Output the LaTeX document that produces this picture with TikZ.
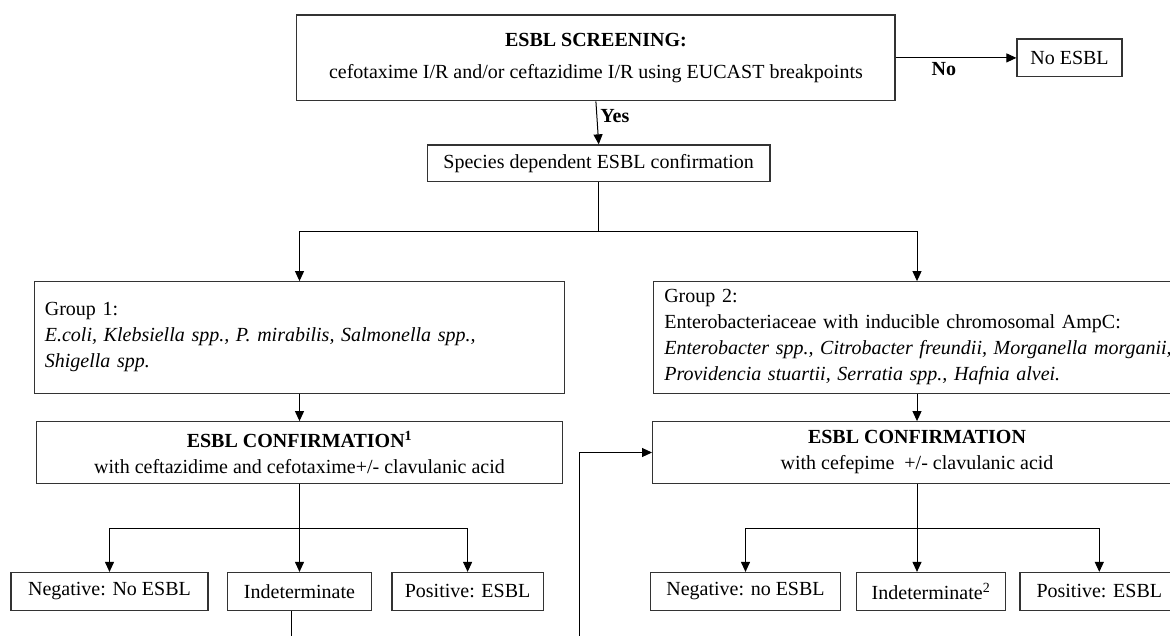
\documentclass[tikz,border=0pt]{standalone}
\usepackage{fontspec}
\setmainfont{Liberation Serif}
\usetikzlibrary{arrows.meta}
\begin{document}
\begin{tikzpicture}[x=1pt,y=-1pt,
  box/.style={draw=black!80,line width=1.2pt,inner sep=0pt,align=center,font=\fontsize{20}{26}\selectfont},
  gbox/.style={draw=black!80,line width=1.2pt,inner xsep=10pt,inner ysep=0pt,align=left,font=\fontsize{20}{26}\selectfont},
  conn/.style={line width=1pt,draw=black},
  arr/.style={conn,-{Triangle[length=10pt,width=9pt]}},
  lbl/.style={font=\fontsize{20}{24}\selectfont\bfseries,inner sep=3pt}]
\useasboundingbox (0,0) rectangle (1170,635);
\clip (0,0) rectangle (1170,635);
\fill[white] (0,0) rectangle (1170,635);

% boxes
\node[box, minimum width=598.3pt, minimum height=85.7pt] (scr) at (595.9,57.9)
  {\textbf{ESBL SCREENING:}\\[6pt]cefotaxime I/R and/or ceftazidime I/R using EUCAST breakpoints};
\node[box, minimum width=105pt, minimum height=37.7pt] (noe) at (1069.5,57.9) {No ESBL};
\node[box, minimum width=342.6pt, minimum height=36.7pt] (spec) at (598.7,163.3) {Species dependent ESBL confirmation};

\node[gbox, text width=509.3pt, minimum height=111.6pt] (g1) at (299.5,337.5)
  {Group 1:\\\textit{E.coli, Klebsiella spp., P. mirabilis, Salmonella spp.,}\\\textit{Shigella spp.}};
\node[gbox, inner xsep=11pt, text width=505.4pt, minimum height=111.6pt] (g2) at (917,337.5)
  {Group 2:\\\mbox{Enterobacteriaceae with inducible chromosomal AmpC:}\\\mbox{\textit{Enterobacter spp., Citrobacter freundii, Morganella morganii,}}\\\mbox{\textit{Providencia stuartii, Serratia spp., Hafnia alvei.}}};

\node[box, minimum width=526.6pt, minimum height=61.6pt] (c1) at (299.5,452.5)
  {\textbf{ESBL CONFIRMATION\textsuperscript{1}}\\with ceftazidime and cefotaxime+/- clavulanic acid};
\node[box, minimum width=528.8pt, minimum height=61.6pt] (c2) at (917,452.5)
  {\textbf{ESBL CONFIRMATION}\\with cefepime\ \ +/- clavulanic acid};

\node[box, minimum width=197pt, minimum height=38pt] (n1) at (109.5,591.5) {Negative: No ESBL};
\node[box, minimum width=144.7pt, minimum height=38pt] (i1) at (299.5,591.5) {Indeterminate};
\node[box, minimum width=151.2pt, minimum height=38pt] (p1) at (467.6,591.5) {Positive: ESBL};
\node[box, minimum width=190.5pt, minimum height=38pt] (n2) at (745.5,591.5) {Negative: no ESBL};
\node[box, minimum width=148.5pt, minimum height=38pt] (i2) at (931,591.5) {Indeterminate\textsuperscript{2}};
\node[box, minimum width=158.6pt, minimum height=38pt] (p2) at (1099.3,591.5) {Positive: ESBL};

% connectors
\draw[arr] (scr.east) -- (noe.west) node[lbl, below, pos=0.4, inner sep=4pt] (nol) {No};
\draw[arr] (scr.south) -- (spec.north) node[lbl, right, pos=0.35] (yesl) {Yes};

\coordinate (j0) at (598.7,231.7);
\draw[conn] (spec.south) -- (j0);
\draw[arr] (j0) -| (g1.north);
\draw[arr] (j0) -| (g2.north);

\draw[arr] (g1.south) -- (c1.north);
\coordinate (j1) at (299.5,528);
\draw[conn] (c1.south) -- (j1);
\draw[arr] (j1) -| (n1.north);
\draw[arr] (j1) -- (i1.north);
\draw[arr] (j1) -| (p1.north);

\draw[arr] (g2.south) -- (c2.north);
\coordinate (j2) at (917,528);
\draw[conn] (c2.south) -- (j2);
\draw[arr] (j2) -| (n2.north);
\draw[arr] (j2) -- (j2 |- i2.north);
\draw[arr] (j2) -| (p2.north);

\coordinate (fb1) at (291,650);
\draw[conn] (i1.south -| fb1) -- (fb1);
\coordinate (fb2) at (579.5,650);
\draw[arr] (fb2) |- (c2.west);
\end{tikzpicture}
\end{document}
